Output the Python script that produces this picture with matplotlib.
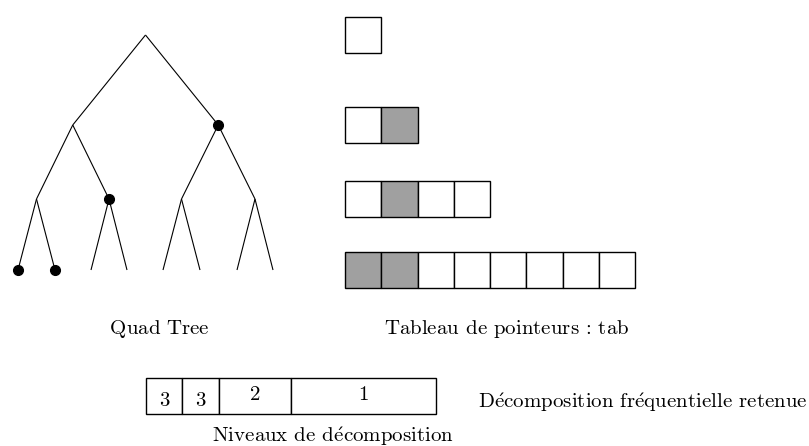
import matplotlib
matplotlib.use('Agg')
import matplotlib.pyplot as plt
from matplotlib.patches import Rectangle

plt.rcParams['font.family'] = ['cmr10', 'DejaVu Serif']

# tree: 4 levels, binary layout, y of each level (pixels)
level_y = [35, 125, 199, 270]
leaf_x = [18, 55, 91, 127, 163, 200, 237, 273]
# marked (selected) nodes per level
marked = [[], [1], [1], [0, 1]]

# retained decomposition
dec_levels = [3, 3, 2, 1]

# texts
lbl_tree = "Quad Tree"
lbl_tab = "Tableau de pointeurs : tab"
lbl_dec = "Décomposition fréquentielle retenue"
lbl_niv = "Niveaux de décomposition"

fig = plt.figure(figsize=(8.09, 4.46), dpi=100)
ax = fig.add_axes([0, 0, 1, 1])
ax.set_xlim(0, 809)
ax.set_ylim(446, 0)
ax.axis('off')
rend = fig.canvas.get_renderer()


def text_w(s, fs):
    t = ax.text(0, 0, s, fontsize=fs)
    w = t.get_window_extent(rend).width
    t.remove()
    return w


def spaced(x0, x1, y, s, fs):
    # the original has loose letter spacing: spread glyphs from x0 to x1
    # cmr10 has no é, so it is drawn as e + an acute accent
    sp = text_w('x x', fs) - text_w('xx', fs)
    ws = [sp if c == ' ' else text_w('e' if c == 'é' else c, fs) for c in s]
    gap = (x1 - x0 - sum(ws)) / (len(s) - 1)
    x = x0
    for c, w in zip(s, ws):
        if c == 'é':
            ax.text(x, y, 'e', fontsize=fs, ha='left', va='baseline')
            ax.text(x + w/2 + 1, y + 1, '\u00b4', fontsize=fs*0.9,
                    family='DejaVu Serif', ha='center', va='baseline')
        elif c != ' ':
            ax.text(x, y, c, fontsize=fs, ha='left', va='baseline')
        x += w + gap


# node x positions, bottom up
xs = [leaf_x]
while len(xs[0]) > 1:
    prev = xs[0]
    xs.insert(0, [(prev[2*i] + prev[2*i+1]) / 2 for i in range(len(prev)//2)])

for lev in range(len(xs) - 1):
    for i, x in enumerate(xs[lev]):
        for c in (2*i, 2*i+1):
            ax.plot([x, xs[lev+1][c]], [level_y[lev], level_y[lev+1]],
                    color='k', lw=0.8, solid_capstyle='butt')
for lev, idx in enumerate(marked):
    for i in idx:
        ax.plot(xs[lev][i], level_y[lev], 'o', color='k', ms=7)

# pointer table
cell = 36.3
tab_x0 = 345
for lev in range(len(xs)):
    for i in range(len(xs[lev])):
        fc = '#a0a0a0' if i in marked[lev] else 'white'
        ax.add_patch(Rectangle((tab_x0 + i*cell, level_y[lev] - cell/2), cell, cell,
                               fc=fc, ec='k', lw=1))

# decomposition bar
bx = 146
by = 378
for lv in dec_levels:
    w = cell * 2 ** (max(dec_levels) - lv)
    ax.add_patch(Rectangle((bx, by), w, cell, fc='white', ec='k', lw=1))
    ax.text(bx + w/2, 400 if w > cell else 406, str(lv),
            ha='center', va='baseline', fontsize=15)
    bx += w

fs = 15
spaced(110, 208, 334, lbl_tree, fs)
spaced(384, 628, 334, lbl_tab, fs)
spaced(478, 806, 407, lbl_dec, fs)
spaced(212, 452, 441, lbl_niv, fs)

fig.savefig('out.png', dpi=100)
